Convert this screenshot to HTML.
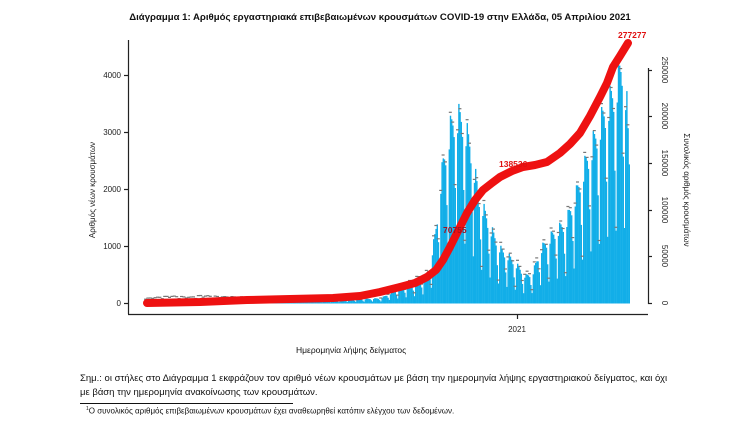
<!DOCTYPE html>
<html><head><meta charset="utf-8"><style>
body{margin:0;width:743px;height:434px;background:#fff;overflow:hidden;font-family:"Liberation Sans",sans-serif}
svg{position:absolute;left:0;top:0}
.t{position:absolute;white-space:nowrap;color:#111}
</style></head><body>
<svg id="s" width="743" height="434" xmlns="http://www.w3.org/2000/svg">
<g id="bars" fill="#12aee8"></g>
<g stroke="#222" stroke-width="1.2" fill="none">
<line x1="128.5" y1="40" x2="128.5" y2="314"/>
<line x1="128" y1="314.5" x2="648" y2="314.5"/>
<line x1="648.5" y1="68" x2="648.5" y2="304"/>
<line x1="124" y1="303.5" x2="128" y2="303.5"/><line x1="124" y1="246.5" x2="128" y2="246.5"/>
<line x1="124" y1="189.5" x2="128" y2="189.5"/><line x1="124" y1="132.5" x2="128" y2="132.5"/>
<line x1="124" y1="75.5" x2="128" y2="75.5"/>
<line x1="517.5" y1="314" x2="517.5" y2="319"/>
<line x1="648" y1="303.5" x2="652" y2="303.5"/><line x1="648" y1="256.5" x2="652" y2="256.5"/>
<line x1="648" y1="210.5" x2="652" y2="210.5"/><line x1="648" y1="163.5" x2="652" y2="163.5"/>
<line x1="648" y1="116.5" x2="652" y2="116.5"/><line x1="648" y1="70.5" x2="652" y2="70.5"/>
</g>
<g font-size="8" fill="#222" text-anchor="end">
<text x="121" y="306">0</text><text x="121" y="249">1000</text><text x="121" y="192">2000</text>
<text x="121" y="135">3000</text><text x="121" y="78">4000</text>
</g>
<g font-size="8" fill="#222" text-anchor="middle">
<text x="517" y="332">2021</text>
<text transform="translate(662,303) rotate(90)">0</text>
<text transform="translate(662,256) rotate(90)">50000</text>
<text transform="translate(662,210) rotate(90)">100000</text>
<text transform="translate(662,163) rotate(90)">150000</text>
<text transform="translate(662,116) rotate(90)">200000</text>
<text transform="translate(662,70) rotate(90)">250000</text>
<text transform="translate(95,190) rotate(-90)">Αριθμός νέων κρουσμάτων</text>
<text transform="translate(684,190) rotate(90)">Συνολικός αριθμός κρουσμάτων</text>
</g>
<polyline id="cum" fill="none" stroke="#ee1111" stroke-width="8" stroke-linecap="round" stroke-linejoin="round"
points="147,303 200,302 247,300 290,299 333,298 360,296 380,292 400,287 415,283 427,277 436,270 443,260 450,247 457,233 467,213 475,200 483,190 492,183 500,177 512,171 523,167 535,165 547,162 560,153 570,144 580,133 590,116 600,97 607,83 613,67 620,56 628,43"/>
<g font-size="8.5" font-weight="bold">
<text x="618" y="38" fill="#e01010">277277</text>
<text x="499" y="167" fill="#e01010">138536</text>
<text x="443" y="233" fill="#a01020">70755</text>
</g>
<line x1="80" y1="403.5" x2="293" y2="403.5" stroke="#111" stroke-width="1"/>
</svg>
<div class="t" style="left:0;width:760px;text-align:center;top:12px;font-size:9.6px;font-weight:bold">Διάγραμμα 1: Αριθμός εργαστηριακά επιβεβαιωμένων κρουσμάτων COVID-19 στην Ελλάδα, 05 Απριλίου 2021</div>
<div class="t" style="left:296px;top:345px;font-size:8.5px">Ημερομηνία λήψης δείγματος</div>
<div class="t" style="left:80px;top:373px;font-size:9.5px">Σημ.: οι στήλες στο Διάγραμμα 1 εκφράζουν τον αριθμό νέων κρουσμάτων με βάση την ημερομηνία λήψης εργαστηριακού δείγματος, και όχι</div>
<div class="t" style="left:80px;top:387px;font-size:9.5px">με βάση την ημερομηνία ανακοίνωσης των κρουσμάτων.</div>
<div class="t" style="left:86px;top:406px;font-size:8px"><sup style="font-size:5px">1</sup>Ο συνολικός αριθμός επιβεβαιωμένων κρουσμάτων έχει αναθεωρηθεί κατόπιν ελέγχου των δεδομένων.</div>
<script>
var k=[[145,20],[170,60],[190,40],[200,70],[220,50],[260,40],[330,40],[380,80],[400,250],[415,350],[428,500],[435,1200],[442,2300],[450,2950],[456,3150],[463,3050],[470,2600],[478,1800],[490,1250],[500,900],[512,720],[525,450],[532,500],[540,900],[552,1150],[565,1350],[575,1800],[585,2350],[595,2800],[605,3250],[615,3600],[622,4050],[626,3400],[630,1800]];
function v(x){for(var i=0;i<k.length-1;i++){if(x<=k[i+1][0]){var t=(x-k[i][0])/(k[i+1][0]-k[i][0]);return k[i][1]+t*(k[i+1][1]-k[i][1]);}}return k[k.length-1][1];}
var g=document.getElementById('bars'),h='',lab='';
for(var d=0;d<404;d++){var x=145+d*1.2;var c=v(x);var w=d%7;var f=[0.35,0.95,1.12,1.08,1.03,0.95,0.65][w];c*=f;var y=303-c*0.057;
h+='<rect x="'+x.toFixed(1)+'" y="'+y.toFixed(1)+'" width="1.4" height="'+(303.5-y).toFixed(1)+'"/>';
if(d%2==0)lab+='<rect x="'+(x-1).toFixed(1)+'" y="'+(y-4).toFixed(1)+'" width="3" height="1.2"/>';}
g.innerHTML=h+'<g fill="#777">'+lab+'</g>';
</script>
</body></html>
